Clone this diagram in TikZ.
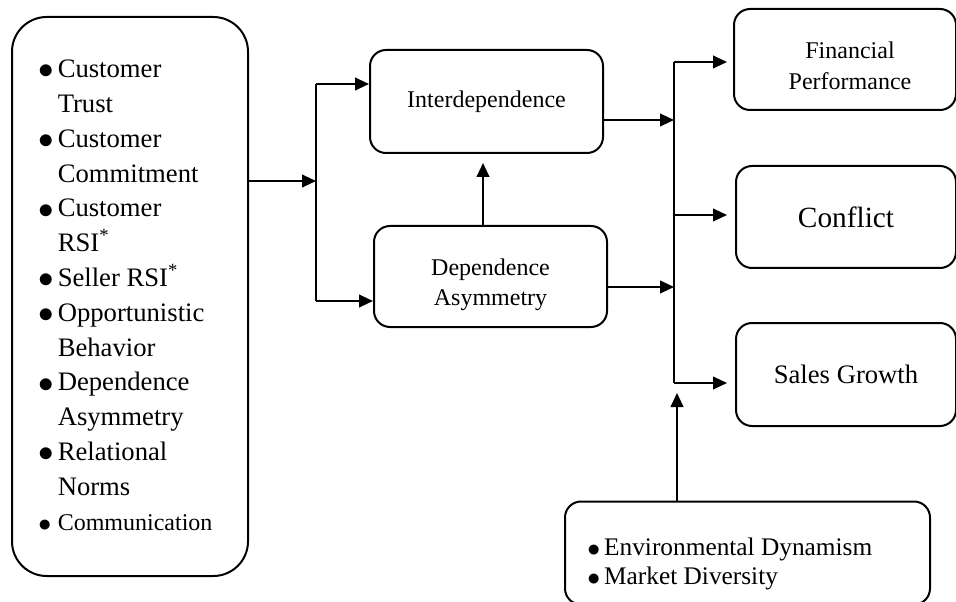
\documentclass[tikz,border=0pt]{standalone}
\usepackage{fontspec}
\setmainfont{Liberation Serif}
\usetikzlibrary{arrows.meta,calc}
\newcommand\bul{\raisebox{-0.04em}{\scalebox{1.12}{$\bullet$}}}
\begin{document}
\begin{tikzpicture}[x=0.75pt,y=-0.75pt,
  box/.style={draw,line width=1.5pt,rounded corners=12pt,inner sep=0pt,align=center},
  conn/.style={line width=1.5pt},
  arr/.style={conn,-{Triangle[length=10.5pt,width=9.5pt]}},
  txt/.style={inner sep=0pt}]
\useasboundingbox (0,0) rectangle (956,602);

% boxes
\node[box,rounded corners=26pt,minimum width=177pt,minimum height=419.25pt] (left) at (130,296.5) {};
\node[box,minimum width=174.75pt,minimum height=77.25pt,font=\fontsize{18}{22.5}\selectfont] (inter) at (486.5,101.5) {Interdependence};
\node[box,minimum width=174.75pt,minimum height=75.75pt] (dep) at (490.5,276.5) {};
\node[box,minimum width=166.5pt,minimum height=75.75pt] (fin) at (845,59.5) {};
\node[box,minimum width=165pt,minimum height=76.5pt,font=\fontsize{22}{26}\selectfont] (conf) at (846,217) {Conflict};
\node[box,minimum width=165pt,minimum height=77.25pt,font=\fontsize{20}{24}\selectfont] (sales) at (846,374.5) {Sales Growth};
\node[box,minimum width=273.75pt,minimum height=77.25pt] (env) at (747.5,553) {};

% texts
\node[txt,anchor=west,font=\fontsize{20}{26.1}\selectfont] (lefttext) at (38,297) {%
\begin{tabular}{@{}l@{\hspace{3pt}}l@{}}
\bul & Customer\\
 & Trust\\
\bul & Customer\\
 & Commitment\\
\bul & Customer\\
 & RSI\textsuperscript{*}\\
\bul & Seller RSI\textsuperscript{*}\\
\bul & Opportunistic\\
 & Behavior\\
\bul & Dependence\\
 & Asymmetry\\
\bul & Relational\\
 & Norms\\
{\fontsize{18}{26.1}\selectfont\bul} & {\fontsize{18}{26.1}\selectfont Communication}
\end{tabular}};
\node[txt,font=\fontsize{18}{22.5}\selectfont] (deptext) at (490.5,285) {%
\begin{tabular}{@{}c@{}}Dependence\\Asymmetry\end{tabular}};
\node[txt,font=\fontsize{18}{23.5}\selectfont] (fintext) at (850,68) {%
\begin{tabular}{@{}c@{}}Financial\\Performance\end{tabular}};
\node[txt,anchor=west,font=\fontsize{19}{21.5}\selectfont] (envtext) at (587,564) {%
\begin{tabular}{@{}l@{\hspace{3pt}}l@{}}
\bul & Environmental Dynamism\\
\bul & Market Diversity
\end{tabular}};

% junction coordinates
\coordinate (sm) at (316,181);
\coordinate (sa) at (316,84);
\coordinate (sb) at (316,301);
\coordinate (va) at (483,0);
\coordinate (ti) at (674,120);
\coordinate (td) at (674,287);
\coordinate (ta) at (674,62);
\coordinate (tc) at (674,215);
\coordinate (tb) at (674,383);
\coordinate (ea) at (677,393);

% connectors
\draw[arr] (left.east |- sm) -- (sm);
\draw[conn] (sa) -- (sb);
\draw[arr] (sa) -- (inter.west |- sa);
\draw[arr] (sb) -- (dep.west |- sb);
\draw[arr,shorten >=6.75pt] (dep.north -| va) -- (inter.south -| va);
\draw[arr] (inter.east |- ti) -- (ti);
\draw[arr] (dep.east |- td) -- (td);
\draw[conn] (ta) -- (tb);
\draw[arr,shorten >=4.5pt] (ta) -- (fin.west |- ta);
\draw[arr,shorten >=6pt] (tc) -- (conf.west |- tc);
\draw[arr,shorten >=6pt] (tb) -- (sales.west |- tb);
\draw[arr] (env.north -| ea) -- (ea);
\end{tikzpicture}
\end{document}
